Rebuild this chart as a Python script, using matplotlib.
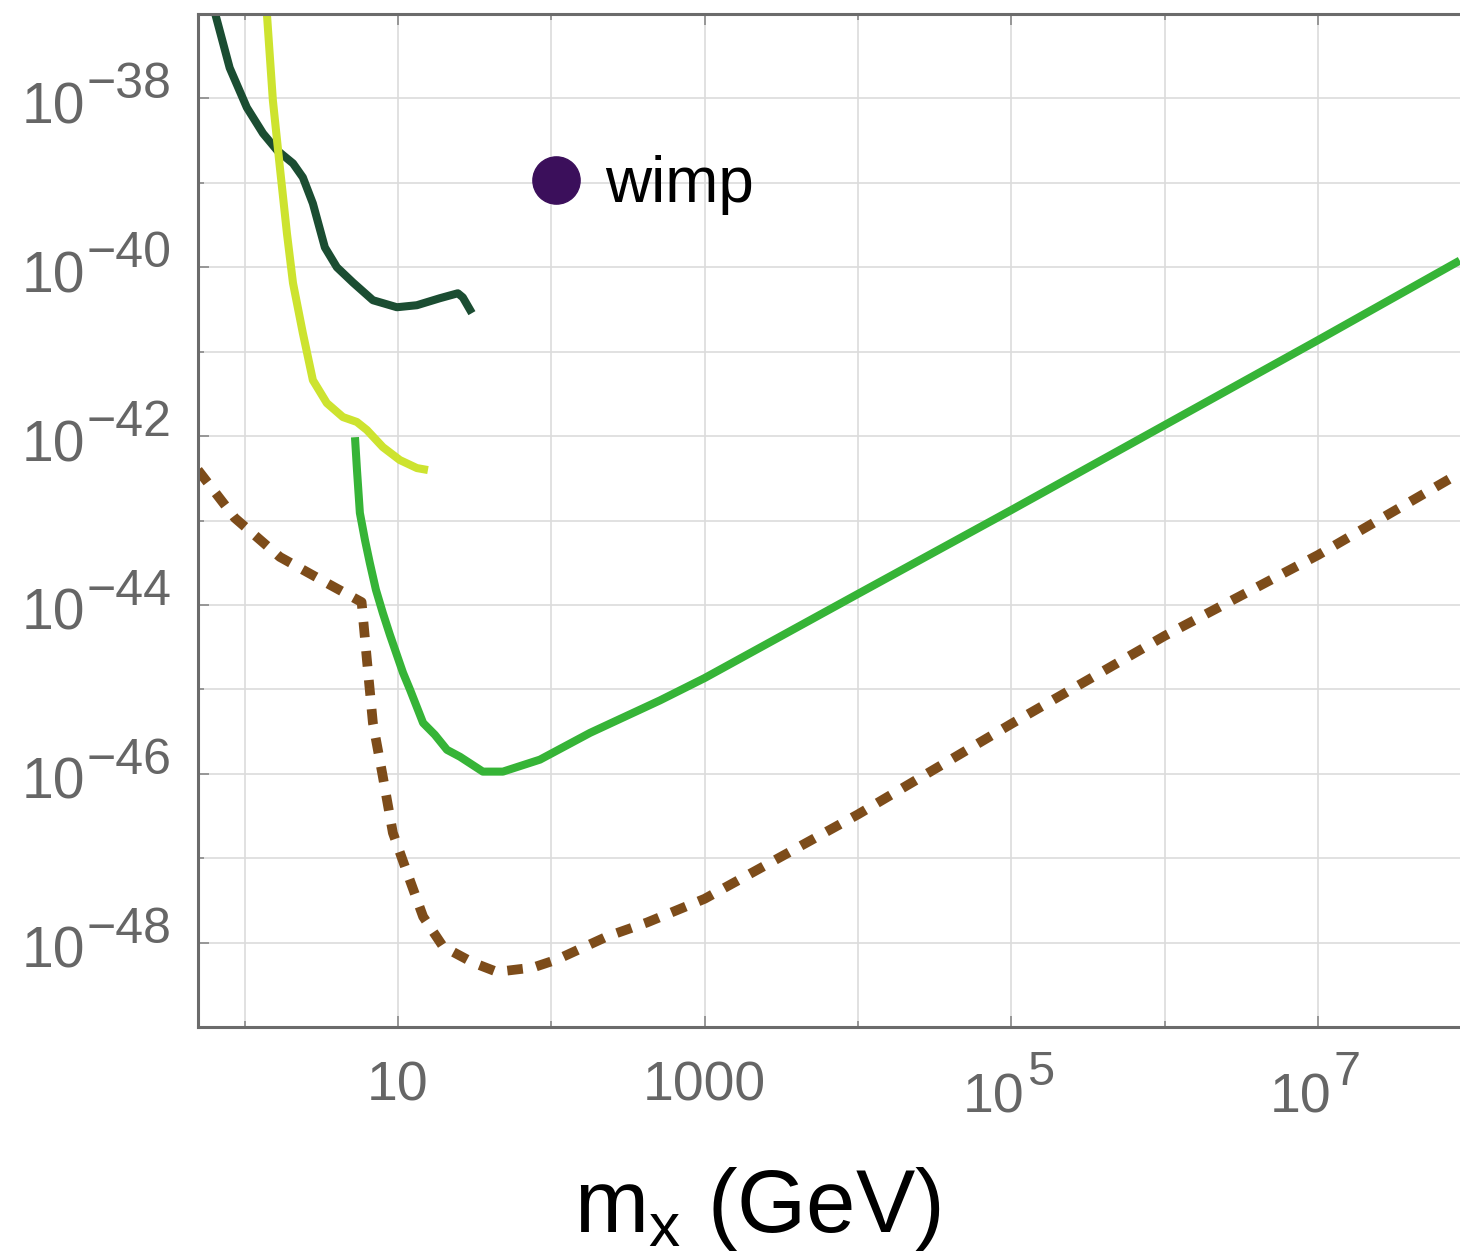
import numpy as np
import matplotlib
matplotlib.use("Agg")
import matplotlib.pyplot as plt
from matplotlib.ticker import FixedLocator, NullFormatter
from matplotlib.lines import Line2D

plt.rcParams['font.family'] = ['Liberation Sans', 'DejaVu Sans']
plt.rcParams['mathtext.fontset'] = 'custom'
plt.rcParams['mathtext.rm'] = 'Liberation Sans'
plt.rcParams['mathtext.it'] = 'Liberation Sans:italic'
plt.rcParams['mathtext.default'] = 'regular'

# ---------------------------------------------------------------------------
# limits: dark matter mass (GeV) vs cross section (cm^2)

m_dark = [0.61, 0.80, 1.035, 1.32, 1.63, 2.07, 2.40, 2.79, 3.34, 4.0,
          5.09, 6.87, 9.85, 13.3, 18.8, 24.6, 26.5, 30.4]
s_dark = [1.45e-37, 2.3e-38, 7.8e-39, 3.85e-39, 2.43e-39, 1.70e-39, 1.16e-39,
          5.7e-40, 1.72e-40, 1.0e-40, 6.6e-41, 4.07e-41, 3.36e-41, 3.55e-41,
          4.3e-41, 4.92e-41, 4.4e-41, 2.86e-41]

m_yel = [1.38, 1.53, 1.70, 1.89, 2.07, 2.40, 2.79, 3.44, 4.38, 5.40, 6.28,
         7.98, 10.3, 13.3, 15.7]
s_yel = [1.45e-37, 9.5e-39, 1.52e-39, 2.52e-40, 6.5e-41, 1.66e-41, 4.6e-42,
         2.46e-42, 1.68e-42, 1.47e-42, 1.18e-42, 7.4e-43, 5.2e-43, 4.18e-43,
         3.96e-43]

m_grn = [5.25, 5.41, 5.65, 6.10, 6.56, 7.19, 7.98, 8.87, 10.8, 12.0, 14.6,
         17.4, 20.9, 25.4, 35.8, 48.4, 84.4, 179, 512, 1e3, 1e4, 1e5, 1e6,
         1e7, 8.4e7]
s_grn = [9.7e-43, 3.96e-43, 1.23e-43, 5.87e-44, 3.14e-44, 1.51e-44, 8.0e-45,
         4.42e-45, 1.57e-45, 9.9e-46, 4.0e-46, 2.9e-46, 1.92e-46, 1.59e-46,
         1.06e-46, 1.06e-46, 1.47e-46, 3.05e-46, 7.4e-46, 1.36e-45, 1.35e-44,
         1.33e-43, 1.35e-42, 1.37e-41, 1.2e-40]

# neutrino floor (dashed)
m_nu = [0.497, 0.865, 1.70, 3.61, 5.8, 6.28, 6.87, 7.98, 9.27, 11.5, 14.6,
        19.7, 30.8, 44.2, 75.9, 109, 231, 421, 1e3, 1e4, 1e5, 1e6, 1e7, 8.4e7]
s_nu = [3.96e-43, 1.07e-43, 3.7e-44, 1.73e-44, 1.08e-44, 2.23e-45, 4.0e-46,
        9.2e-47, 2.0e-47, 6.7e-48, 2.03e-48, 8.97e-49, 5.8e-49, 4.5e-49,
        5.06e-49, 6.3e-49, 1.18e-48, 1.73e-48, 3.3e-48, 3.3e-47, 3.9e-46,
        4.3e-45, 3.9e-44, 3.65e-43]

x_ticks = [10, 1e3, 1e5, 1e7]
x_base = ['10', '1000', '10', '10']
x_pow = ['', '', '5', '7']
y_exps = [-48, -46, -44, -42, -40, -38]

# ---------------------------------------------------------------------------

fig = plt.figure(figsize=(14.6, 12.55), dpi=100)
ax = fig.add_axes([0.1356, 0.18167, 0.8644, 0.80717])

ax.plot(m_dark, s_dark, color='#1b4d32', lw=5.8, solid_capstyle='butt',
        solid_joinstyle='round')
ax.plot(m_yel, s_yel, color='#cde32f', lw=5.8, solid_capstyle='butt',
        solid_joinstyle='round')
ax.plot(m_grn, s_grn, color='#36b437', lw=5.8, solid_capstyle='butt',
        solid_joinstyle='round')
ax.plot(m_nu, s_nu, color='#7d4c1a', lw=7, dashes=(1.6, 1.4),
        dash_capstyle='butt')

ax.set_xscale('log')
ax.set_yscale('log')
ax.set_xlim(0.497, 8.43e7)
ax.set_ylim(1e-49, 1e-37)

ax.xaxis.set_major_locator(FixedLocator(x_ticks))
ax.xaxis.set_major_formatter(NullFormatter())
ax.xaxis.set_minor_locator(FixedLocator([1, 100, 1e4, 1e6]))
ax.xaxis.set_minor_formatter(NullFormatter())

ax.yaxis.set_major_locator(FixedLocator([10.0**e for e in y_exps]))
ax.yaxis.set_major_formatter(NullFormatter())
ax.yaxis.set_minor_locator(FixedLocator([10.0**e for e in range(-49, -36, 2)]))
ax.yaxis.set_minor_formatter(NullFormatter())

ax.grid(True, which='both', color='#dcdcdc', lw=1.2)
ax.set_axisbelow(True)

for side in ['left', 'bottom', 'top']:
    ax.spines[side].set_color('#6b6b6b')
    ax.spines[side].set_linewidth(2.2)
ax.spines['right'].set_visible(False)

ax.tick_params(which='major', direction='in', length=8, width=1.2,
               color='#8a8a8a', top=True)
ax.tick_params(which='minor', direction='in', length=4, width=1.2,
               color='#8a8a8a', top=True)

# tick labels with full-size exponents
lab = dict(textcoords='offset points', color='#666666', va='baseline',
           annotation_clip=False)
for e in y_exps:
    ax.annotate('10', xy=(0, 10.0**e), xycoords=('axes fraction', 'data'),
                xytext=(-126.7, -18), ha='left', fontsize=41, **lab)
    ax.annotate('\u2212%d' % -e, xy=(0, 10.0**e),
                xycoords=('axes fraction', 'data'),
                xytext=(-80, 0), ha='left', fontsize=36, **lab)

for xt, b, p in zip(x_ticks, x_base, x_pow):
    if p == '':
        ax.annotate(b, xy=(xt, 0), xycoords=('data', 'axes fraction'),
                    xytext=(0, -52.6), ha='center', fontsize=40, **lab)
    else:
        ax.annotate(b, xy=(xt, 0), xycoords=('data', 'axes fraction'),
                    xytext=(-35, -61.2), ha='left', fontsize=40, **lab)
        ax.annotate(p, xy=(xt, 0), xycoords=('data', 'axes fraction'),
                    xytext=(11.5, -41.8), ha='left', fontsize=35, **lab)

key = Line2D([], [], ls='', marker='o', markersize=34, color='#3b0f5b')
ax.legend([key], ['wimp'], loc='center left', bbox_to_anchor=(0.258, 0.831),
          frameon=False, fontsize=46, handlelength=1.0, handletextpad=0.27,
          borderpad=0, borderaxespad=0)

fig.text(757 / 1460, 1 - 1232 / 1255, r'$m_{x}$ (GeV)', ha='center',
         va='baseline', fontsize=64)

plt.savefig('out.png', dpi=100)
